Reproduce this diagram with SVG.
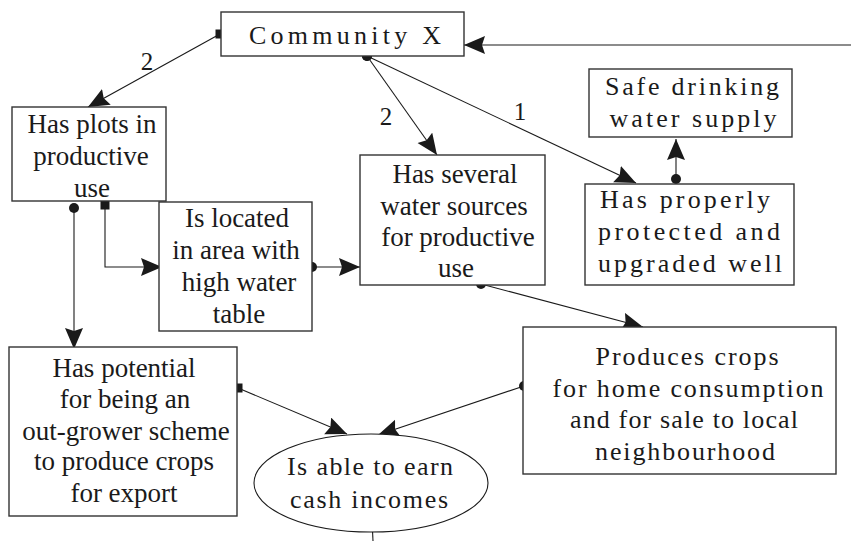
<svg xmlns="http://www.w3.org/2000/svg" width="851" height="541" viewBox="0 0 851 541" font-family="Liberation Serif, DejaVu Serif, serif">
<style>
text{font-family:'Liberation Serif','DejaVu Serif',serif;fill:#1a1a1a;text-anchor:middle}
.box{fill:#fff;stroke:#333;stroke-width:1.4}
.t{font-size:27px}
.w{font-size:26px}
.n{font-size:25px}
.c{fill:none;stroke:#1a1a1a;stroke-width:1.1}
.arr{marker-end:url(#ah)}
.fc{marker-start:url(#dot)}
.fs{marker-start:url(#sq)}
</style>
<defs>
<marker id="ah" markerUnits="userSpaceOnUse" markerWidth="22" markerHeight="20" refX="21" refY="9" orient="auto" viewBox="0 0 22 20">
<path d="M0,0 L21,9 L0,18 L3,9 z" fill="#1a1a1a"/>
</marker>
<marker id="dot" markerUnits="userSpaceOnUse" markerWidth="12" markerHeight="12" refX="6" refY="6" viewBox="0 0 12 12">
<circle cx="6" cy="6" r="5" fill="#1a1a1a"/>
</marker>
<marker id="sq" markerUnits="userSpaceOnUse" markerWidth="12" markerHeight="12" refX="6" refY="6" viewBox="0 0 12 12">
<rect x="1.5" y="1.5" width="9" height="9" fill="#1a1a1a"/>
</marker>
</defs>
<rect width="851" height="541" fill="#fff"/>

<g id="connectors">
<path class="c arr" d="M851,45 L464,45"/>
<path class="c fs arr" d="M220,34 L88,107"/>
<path class="c fc arr" d="M367,56 L437,155"/>
<path class="c fc arr" d="M367,56 L636,183"/>
<path class="c fc arr" d="M676,179 L676,139"/>
<path class="c fs arr" d="M105,205 L105,267 L162,267"/>
<path class="c fc arr" d="M74,208 L74,349"/>
<path class="c fc arr" d="M312,267 L360,267"/>
<path class="c fc arr" d="M481,284 L643,327"/>
<path class="c fs arr" d="M238,388 L347,434"/>
<path class="c fc arr" d="M524,386 L378,435"/>
<path class="c fs" d="M372,520 L373,541"/>
<text class="n" x="147" y="70">2</text>
<text class="n" x="386" y="125">2</text>
<text class="n" x="520" y="120">1</text>
</g>

<g id="community-x">
<rect class="box" x="221" y="12" width="243" height="44"/>
<text class="w" x="345" y="44" font-size="28" textLength="192" lengthAdjust="spacing">Community X</text>
</g>

<g id="safe-drinking">
<rect class="box" x="589" y="69" width="203" height="68"/>
<text class="w" x="692" y="95" textLength="174" lengthAdjust="spacing">Safe drinking</text>
<text class="w" x="693" y="127" textLength="167" lengthAdjust="spacing">water supply</text>
</g>

<g id="has-properly">
<rect class="box" x="585" y="184" width="209" height="101"/>
<text class="w" x="685" y="208" textLength="170" lengthAdjust="spacing">Has properly</text>
<text class="w" x="689" y="240" textLength="182" lengthAdjust="spacing">protected and</text>
<text class="w" x="690" y="272" textLength="184" lengthAdjust="spacing">upgraded well</text>
</g>

<g id="has-plots">
<rect class="box" x="12" y="107" width="154" height="94"/>
<text class="t" x="92" y="133">Has plots in</text>
<text class="t" x="91" y="165">productive</text>
<text class="t" x="92" y="197">use</text>
</g>

<g id="is-located">
<rect class="box" x="159" y="202" width="153" height="129"/>
<text class="t" x="237" y="227">Is located</text>
<text class="t" x="236" y="259">in area with</text>
<text class="t" x="239" y="291">high water</text>
<text class="t" x="239" y="323">table</text>
</g>

<g id="has-several">
<rect class="box" x="360" y="155" width="185" height="130"/>
<text class="t" x="455" y="183">Has several</text>
<text class="t" x="454" y="215">water sources</text>
<text class="t" x="458" y="246">for productive</text>
<text class="t" x="456" y="277">use</text>
</g>

<g id="has-potential">
<rect class="box" x="9" y="347" width="228" height="169"/>
<text class="t" x="124" y="377">Has potential</text>
<text class="t" x="125" y="408">for being an</text>
<text class="t" x="126" y="440">out-grower scheme</text>
<text class="t" x="124" y="470">to produce crops</text>
<text class="t" x="124" y="502">for export</text>
</g>

<g id="produces-crops">
<rect class="box" x="523" y="327" width="313" height="147"/>
<text class="w" x="687" y="365" textLength="183" lengthAdjust="spacing">Produces crops</text>
<text class="w" x="688" y="397" textLength="271" lengthAdjust="spacing">for home consumption</text>
<text class="w" x="684" y="428" textLength="228" lengthAdjust="spacing">and for sale to local</text>
<text class="w" x="685" y="460" textLength="180" lengthAdjust="spacing">neighbourhood</text>
</g>

<g id="earn-cash">
<ellipse cx="371" cy="483" rx="117" ry="49" fill="#fff" stroke="#1a1a1a" stroke-width="1.1"/>
<text class="w" x="370" y="475" textLength="166" lengthAdjust="spacing">Is able to earn</text>
<text class="w" x="369" y="508" textLength="158" lengthAdjust="spacing">cash incomes</text>
</g>
</svg>
